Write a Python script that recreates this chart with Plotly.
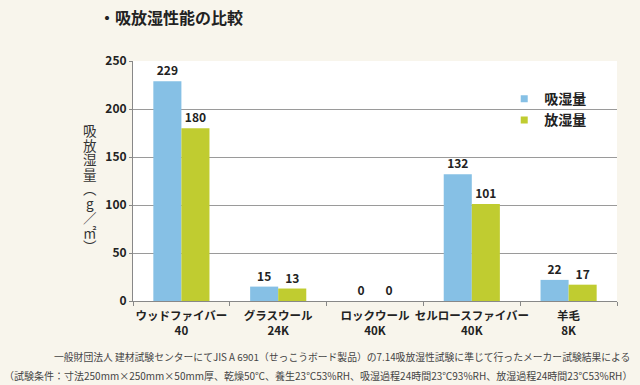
import plotly.graph_objects as go

categories = ["ウッドファイバー<br>40", "グラスウール<br>24K", "ロックウール<br>40K", "セルロースファイバー<br>40K", "羊毛<br>8K"]
absorb = [229, 15, 0, 132, 22]
release = [180, 13, 0, 101, 17]
series_names = ["吸湿量", "放湿量"]
y_ticks = [0, 50, 100, 150, 200, 250]
y_title_chars = ["吸", "放", "湿", "量", "︵", "g", "／", "㎡", "︶"]

JP = "Noto Sans CJK JP"
BLUE = "#86c0e5"
GREEN = "#c0cc30"

fig = go.Figure()
for name, vals, col in [(series_names[0], absorb, BLUE), (series_names[1], release, GREEN)]:
    fig.add_trace(go.Bar(
        x=categories, y=vals, name=name, marker=dict(color=col, line=dict(width=0)),
        text=[str(v) for v in vals], textposition="outside", cliponaxis=False,
        textfont=dict(family=JP, size=12, color="#222222", weight="bold"),
        showlegend=False, hoverinfo="skip",
    ))
# legend entries with small square swatches
for name, col in [(series_names[0], BLUE), (series_names[1], GREEN)]:
    fig.add_trace(go.Scatter(x=[None], y=[None], mode="markers", name=name,
                             marker=dict(symbol="square", size=7, color=col)))

fig.update_layout(
    width=640, height=385,
    paper_bgcolor="#f8f5ec", plot_bgcolor="#ffffff",
    margin=dict(l=133, r=23, t=61, b=84, autoexpand=False),
    barmode="group", bargap=0.42, bargroupgap=0,
    showlegend=True,
    legend=dict(x=0.767, y=0.908, xanchor="left", yanchor="top", bgcolor="rgba(0,0,0,0)",
                font=dict(family=JP, size=14, color="#222222", weight="bold"),
                itemwidth=30, tracegroupgap=0),
    font=dict(family=JP),
)
fig.update_xaxes(
    showline=True, linecolor="#888888", linewidth=1, automargin=False,
    ticks="outside", tickson="boundaries", ticklen=4, tickcolor="#888888",
    tickangle=0, ticklabelstandoff=4,
    tickfont=dict(family=JP, size=11.5, color="#222222", weight="bold"),
    showgrid=False,
)
fig.update_yaxes(
    range=[0, 250], tickvals=y_ticks, showline=True, linecolor="#888888", linewidth=1,
    ticks="outside", ticklen=3, tickcolor="#888888", automargin=False,
    showgrid=True, gridcolor="#9a9a9a", gridwidth=1, zeroline=False,
    tickfont=dict(family=JP, size=12, color="#222222", weight="bold"),
)

fig.add_annotation(text="・吸放湿性能の比較", xref="paper", yref="paper", x=-0.0744, y=1.0,
                   yshift=44, xanchor="left", yanchor="middle", showarrow=False,
                   font=dict(family=JP, size=16, color="#222222", weight="bold"))
# vertical y-axis title, one character per line (tightly stacked as in the reference)
for i, ch in enumerate(y_title_chars):
    fig.add_annotation(text=ch, xref="paper", yref="paper", x=-0.0895,
                       y=(301 - (130 + i * 14.5)) / 240,
                       xanchor="center", yanchor="middle", showarrow=False, borderpad=0,
                       font=dict(family=JP, size=13.5, color="#333333"))
fig.add_annotation(text="一般財団法人 建材試験センターにてJIS A 6901（せっこうボード製品）の7.14吸放湿性試験に準じて行ったメーカー試験結果による",
                   xref="paper", yref="paper", x=1.031, y=0, yshift=-56, xanchor="right", yanchor="middle",
                   showarrow=False, font=dict(family=JP, size=9.8, color="#444444"))
fig.add_annotation(text="（試験条件：寸法250mm×250mm×50mm厚、乾燥50℃、養生23℃53%RH、吸湿過程24時間23℃93%RH、放湿過程24時間23℃53%RH）",
                   xref="paper", yref="paper", x=-0.2707, y=0, yshift=-74, xanchor="left", yanchor="middle",
                   showarrow=False, font=dict(family=JP, size=10, color="#444444"))

fig.write_html("out.html", config={"displayModeBar": False},
               post_script="document.body.style.margin='0';document.body.style.background='#f8f5ec';")
